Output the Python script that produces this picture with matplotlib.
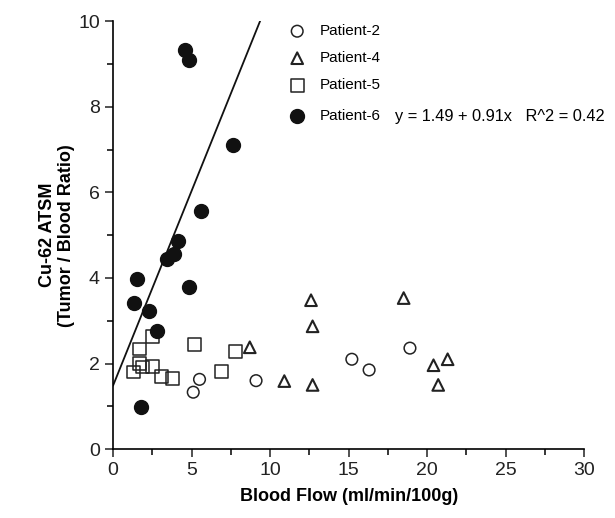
import matplotlib.pyplot as plt
import numpy as np

plt.rcParams['font.family'] = ['Liberation Sans', 'DejaVu Sans']

# Patient-2 (open circles)
p2_x = [5.1, 5.5, 9.1, 15.2, 16.3, 18.9]
p2_y = [1.33, 1.63, 1.6, 2.1, 1.85, 2.36]

# Patient-4 (open triangles)
p4_x = [8.7, 10.9, 12.6, 12.7, 12.7, 18.5, 20.4, 21.3, 20.7]
p4_y = [2.38, 1.59, 3.48, 2.87, 1.5, 3.53, 1.96, 2.1, 1.5]

# Patient-5 (open squares)
p5_x = [2.5, 1.7, 5.2, 7.8, 1.7, 1.85, 2.5, 1.3, 3.1, 3.8, 6.9]
p5_y = [2.64, 2.34, 2.45, 2.29, 2.0, 1.92, 1.94, 1.8, 1.69, 1.65, 1.82]

# Patient-6 (filled circles)
p6_x = [4.6, 4.85, 7.6, 5.6, 4.1, 3.9, 3.45, 1.55, 4.8, 1.35, 2.3, 2.8, 1.8]
p6_y = [9.32, 9.1, 7.1, 5.56, 4.86, 4.56, 4.44, 3.97, 3.79, 3.41, 3.22, 2.76, 0.98]

# regression for patient-6
b0, b1 = 1.49, 0.91

fig = plt.figure(figsize=(6.15, 5.18), dpi=100)
ax = fig.add_axes([0.184, 0.133, 0.766, 0.826])

h2 = ax.scatter(p2_x, p2_y, s=70, marker='o', facecolors='none', edgecolors='#222222', linewidths=1.1, label='Patient-2')
h4 = ax.scatter(p4_x, p4_y, s=70, marker='^', facecolors='none', edgecolors='#222222', linewidths=1.5, label='Patient-4')
h5 = ax.scatter(p5_x, p5_y, s=85, marker='s', facecolors='none', edgecolors='#222222', linewidths=1.1, label='Patient-5')
h6 = ax.scatter(p6_x, p6_y, s=100, marker='o', color='#111111', label='Patient-6')

xl = np.array([0, (10 - b0) / b1])
ax.plot(xl, b0 + b1 * xl, color='#111111', lw=1.3)

ax.set_xlim(0, 30)
ax.set_ylim(0, 10)
ax.set_xticks(np.arange(0, 31, 5))
ax.set_xticks(np.arange(0, 31, 2.5), minor=True)
ax.set_yticks(np.arange(0, 11, 2))
ax.set_yticks(np.arange(0, 11, 1), minor=True)
ax.tick_params(which='major', length=6, width=1.1, labelsize=14, colors='#222222')
ax.tick_params(which='minor', length=4, width=1.1)
ax.spines['top'].set_visible(False)
ax.spines['right'].set_visible(False)
ax.spines['left'].set_linewidth(1.2)
ax.spines['bottom'].set_linewidth(1.2)

ax.set_xlabel('Blood Flow (ml/min/100g)', fontsize=13, fontweight='bold', labelpad=6)
ax.set_ylabel('Cu-62 ATSM\n(Tumor / Blood Ratio)', fontsize=13, fontweight='bold', labelpad=2)

leg1 = ax.legend(handles=[h2, h4, h5], loc='upper left', bbox_to_anchor=(0.446, 0.968),
                 bbox_transform=fig.transFigure, frameon=False, fontsize=11,
                 labelspacing=0.85, handletextpad=0.5, borderpad=0)
ax.add_artist(leg1)
ax.legend(handles=[h6], loc='center left', bbox_to_anchor=(0.446, 0.776),
          bbox_transform=fig.transFigure, frameon=False, fontsize=11,
          handletextpad=0.5, borderpad=0)

fig.text(0.642, 0.776, 'y = 1.49 + 0.91x   R^2 = 0.42', fontsize=11.8, va='center')

plt.savefig('out.png', dpi=100)
